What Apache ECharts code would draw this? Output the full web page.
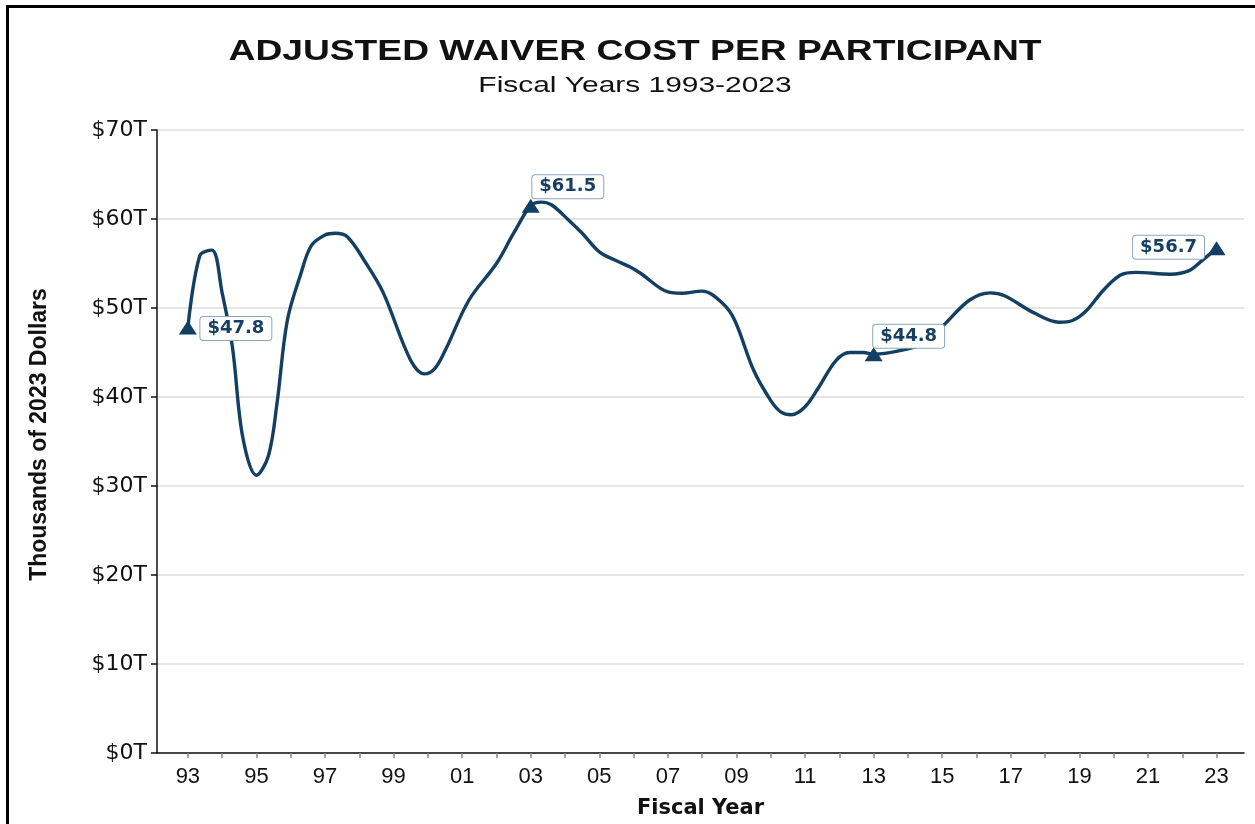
<!DOCTYPE html>
<html>
<head>
<meta charset="utf-8">
<script src="https://cdn.jsdelivr.net/npm/echarts@6/dist/echarts.min.js"></script>
<style>
  html, body { margin: 0; padding: 0; background: #fff; }
  #frame { position: absolute; left: 6px; top: 5px; width: 1249px; height: 819px;
           border-left: 3px solid #000; border-top: 3px solid #000; box-sizing: border-box; }
  #chart { position: absolute; left: 0; top: 0; width: 1255px; height: 824px; }
</style>
</head>
<body>
<div id="frame"></div>
<div id="chart"></div>
<script>
// curve (fiscal year, thousands of 2023 dollars)
const years = [
  1993.0, 1993.35, 1993.7, 1994.0, 1994.3, 1994.6, 1995.0, 1995.35, 1995.6, 1995.9,
  1996.3, 1996.6, 1997.0, 1997.3, 1997.65, 1998.2, 1998.7, 1999.5, 1999.9, 2000.2,
  2000.5, 2001.2, 2002.0, 2002.5, 2003.0, 2003.3, 2003.6, 2004.1, 2004.5, 2005.0,
  2005.5, 2005.9, 2006.2, 2007.0, 2007.4, 2008.0, 2008.6, 2008.95, 2009.5, 2010.0,
  2010.3, 2010.6, 2011.0, 2011.4, 2011.9, 2012.3, 2012.7, 2013.0, 2014.0, 2014.5,
  2015.1, 2015.8, 2016.4, 2016.8, 2017.7, 2018.4, 2018.8, 2019.2, 2019.7, 2020.2,
  2020.65, 2021.65, 2022.2, 2022.6, 2023.0
]
const costs = [
  47.8, 55.9, 56.5, 51.7, 45.6, 35.5, 31.2, 33.4, 39.3, 48.6,
  53.9, 57.0, 58.2, 58.4, 58.0, 55.0, 51.7, 44.1, 42.6, 43.2,
  45.2, 50.9, 55.0, 58.4, 61.5, 61.9, 61.6, 59.9, 58.4, 56.3,
  55.3, 54.6, 53.9, 51.8, 51.65, 51.9, 50.5, 48.6, 43.0, 39.6,
  38.3, 38.0, 38.9, 41.1, 44.1, 45.0, 45.0, 44.8, 45.4, 46.1,
  48.3, 50.9, 51.7, 51.4, 49.4, 48.4, 48.6, 49.7, 52.0, 53.7,
  54.0, 53.8, 54.2, 55.4, 56.7
]

// highlighted years with their boxed labels
const markYears = [1993, 2003, 2013, 2023]
const markValues = [47.8, 61.5, 44.8, 56.7]
const markOffsets = [[48, 1], [37, -19], [35, -18], [-48, -1]]

const tickYears = []
for (let y = 1993; y <= 2023; y++) tickYears.push(y)
const labelYears = tickYears.filter((y, i) => i % 2 === 0)

const navy = '#123f62'
const font = 'Liberation Sans, Arial, sans-serif'
const wide = 'DejaVu Sans, Verdana, sans-serif'

const myChart = echarts.init(document.getElementById('chart'))

const option = {
  animation: false,
  // title text is stretched sideways like in the source image
  graphic: [
    {
      type: 'text', x: 635, y: 52, scaleX: 1.24,
      style: {
        text: 'ADJUSTED WAIVER COST PER PARTICIPANT',
        font: 'bold 30px ' + font, fill: '#111',
        textAlign: 'center', textVerticalAlign: 'middle',
      },
    },
    {
      type: 'text', x: 635, y: 86, scaleX: 1.36,
      style: {
        text: 'Fiscal Years 1993-2023',
        font: '22px ' + font, fill: '#111',
        textAlign: 'center', textVerticalAlign: 'middle',
      },
    },
  ],
  grid: { left: 157, right: 11, top: 130, bottom: 71 },
  xAxis: {
    type: 'value',
    min: 1992.1,
    max: 2023.8,
    name: 'Fiscal Year',
    nameLocation: 'middle',
    nameGap: 45,
    nameTextStyle: { fontFamily: wide, fontSize: 21, fontWeight: 'bold', color: '#111' },
    axisLine: { lineStyle: { color: '#111', width: 1.5 } },
    axisTick: { show: true, customValues: tickYears, length: 5, lineStyle: { color: '#888', width: 1.5 } },
    axisLabel: {
      customValues: labelYears,
      formatter: v => String(v).slice(2),
      margin: 13,
      fontFamily: font, fontSize: 22, color: '#111',
    },
    splitLine: { show: false },
  },
  yAxis: {
    type: 'value',
    min: 0,
    max: 70,
    interval: 10,
    name: 'Thousands of 2023 Dollars',
    nameLocation: 'middle',
    nameGap: 106,
    nameTextStyle: {
      fontFamily: font, fontSize: 23, fontWeight: 'bold', color: '#111',
      padding: [0, 0, 0, 14],
    },
    axisLine: { show: true, lineStyle: { color: '#111', width: 1.5 } },
    axisTick: { show: true, length: 6, lineStyle: { color: '#111', width: 1.5 } },
    axisLabel: {
      formatter: v => '$' + v + 'T',
      margin: 10,
      fontFamily: wide, fontSize: 22, color: '#111',
    },
    splitLine: { lineStyle: { color: '#dddddd', width: 1.5 } },
  },
  series: [
    {
      name: 'Cost',
      type: 'line',
      smooth: 0.35,
      symbol: 'none',
      lineStyle: { color: navy, width: 3.4 },
      data: years.map((y, i) => [y, costs[i]]),
      z: 2,
    },
    {
      name: 'Marks',
      type: 'scatter',
      symbol: 'triangle',
      symbolSize: [18, 14],
      itemStyle: { color: navy, opacity: 1 },
      z: 3,
      data: markYears.map((y, i) => ({
        value: [y, markValues[i]],
        label: {
          show: true,
          position: 'inside',
          offset: markOffsets[i],
          formatter: '$' + markValues[i].toFixed(1),
          fontFamily: wide, fontSize: 18, fontWeight: 'bold', color: '#163f63',
          backgroundColor: '#fff',
          borderColor: '#8aa6bf', borderWidth: 1, borderRadius: 3,
          padding: [3, 7, 2, 7],
        },
      })),
    },
  ],
}

myChart.setOption(option)
</script>
</body>
</html>
